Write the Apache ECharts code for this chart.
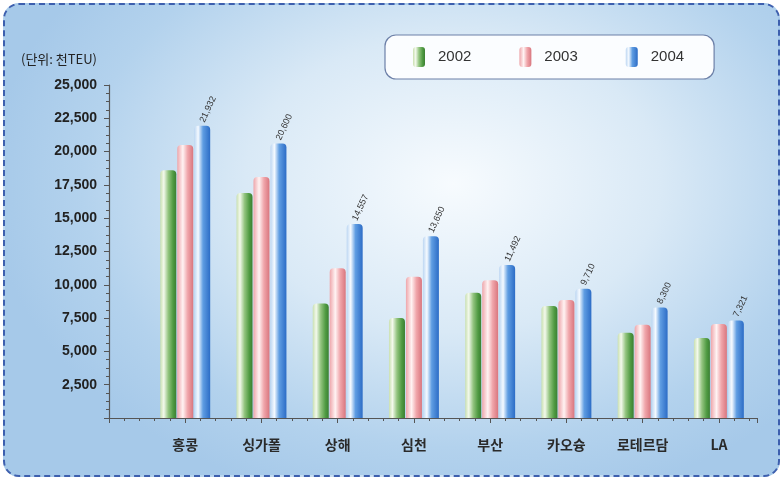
<!DOCTYPE html>
<html><head><meta charset="utf-8">
<script src="https://cdn.jsdelivr.net/npm/echarts@6/dist/echarts.min.js"></script>
<style>
html,body{margin:0;padding:0;background:#fff;}
#wrap{position:absolute;left:3px;top:3px;width:773px;height:470px;border:2px dashed #3d5fae;border-radius:16px;
background:radial-gradient(ellipse 60% 70% at 58% 38%, #f7fbfe 0%, #d9e9f6 45%, #b3d2ed 80%, #a6c9e9 100%);overflow:hidden;}
#chart{position:absolute;left:0;top:0;width:783px;height:480px;}
</style></head>
<body>
<div id="wrap"></div>
<div id="chart"></div>
<script>
const categories = ['홍콩', '싱가폴', '상해', '심천', '부산', '카오슝', '로테르담', 'LA'];
const years = ['2002', '2003', '2004'];
const v2002 = [18600, 16900, 8600, 7500, 9400, 8400, 6400, 6000];
const v2003 = [20500, 18100, 11250, 10600, 10350, 8850, 7000, 7050];
const v2004 = [21932, 20600, 14557, 13650, 11492, 9710, 8300, 7321];
const yTicks = [0, 2500, 5000, 7500, 10000, 12500, 15000, 17500, 20000, 22500, 25000];
const unitLabel = '(단위: 천TEU)';

function grad(stops){
  return new echarts.graphic.LinearGradient(0,0,1,0, stops.map(s=>({offset:s[0],color:s[1]})));
}
const colors = [
  grad([[0,'#c9e0b0'],[0.22,'#f3f9ec'],[0.5,'#93c47f'],[0.8,'#4f9a42'],[1,'#3b7f32']]),
  grad([[0,'#eea6ab'],[0.35,'#fff3f3'],[0.65,'#f0a6ab'],[1,'#d9767e']]),
  grad([[0,'#bcd6f2'],[0.25,'#f5faff'],[0.55,'#5f9de2'],[1,'#2c6cc6']])
];
const dataSets = [v2002, v2003, v2004];

const chart = echarts.init(document.getElementById('chart'), null, {renderer:'canvas'});
const series = dataSets.map((arr, si) => ({
  name: years[si],
  type: 'bar',
  barWidth: 16,
  barGap: '6%',
  data: arr.map((v, i) => [i, v]),
  itemStyle: { color: colors[si], borderRadius: [4, 4, 0, 0] },
  label: si === 2 ? {
    show: true, position: 'top', rotate: 65, align: 'left', verticalAlign: 'middle',
    distance: 4, fontSize: 9, color: '#333', fontFamily: 'Liberation Sans Narrow, Liberation Sans, sans-serif',
    formatter: p => p.value[1].toLocaleString('en-US')
  } : { show: false }
}));

chart.setOption({
  animation: false,
  backgroundColor: 'transparent',
  title: { text: unitLabel, left: 16, top: 48, textStyle: { fontSize: 13, fontWeight: 'normal', color: '#222', fontFamily: 'Noto Sans CJK KR' } },
  legend: {
    data: years, left: 385, top: 35,
    padding: [12, 30, 12, 28], itemGap: 48, itemWidth: 12, itemHeight: 20,
    backgroundColor: '#fbfdff', borderColor: '#6d80a8', borderWidth: 1.2, borderRadius: 11,
    icon: 'roundRect',
    textStyle: { fontSize: 15, color: '#333', fontFamily: 'Liberation Sans, Arial, sans-serif', padding: [0,0,0,8] }
  },
  grid: { left: 109, right: 26, top: 85, bottom: 62 },
  xAxis: {
    type: 'value', min: -1, max: 7.5, interval: 1,
    splitLine: { show: false },
    axisLine: { show: true, onZero: false, lineStyle: { color: '#555', width: 1.2 } },
    axisTick: { show: true, length: 5, lineStyle: { color: '#555' } },
    minorTick: { show: true, splitNumber: 5, length: 3, lineStyle: { color: '#555' } },
    axisLabel: {
      margin: 20, fontSize: 14, fontWeight: 'bold', color: '#2a2a2a', fontFamily: 'Noto Sans CJK KR',
      formatter: v => (Number.isInteger(v) && v >= 0 && v < categories.length) ? categories[v] : ''
    }
  },
  yAxis: {
    type: 'value', min: 0, max: 25000, interval: 2500,
    splitLine: { show: false },
    axisLine: { show: true, onZero: false, lineStyle: { color: '#555', width: 1.2 } },
    axisTick: { show: true, length: 5, lineStyle: { color: '#555' } },
    minorTick: { show: true, splitNumber: 4, length: 3, lineStyle: { color: '#555' } },
    axisLabel: {
      margin: 12, fontSize: 14, fontWeight: 'bold', color: '#222',
      fontFamily: 'Liberation Sans Narrow, Liberation Sans, sans-serif',
      formatter: v => (v === 0 || yTicks.indexOf(v) < 0) ? '' : v.toLocaleString('en-US')
    }
  },
  series: series
});
</script>
</body></html>
